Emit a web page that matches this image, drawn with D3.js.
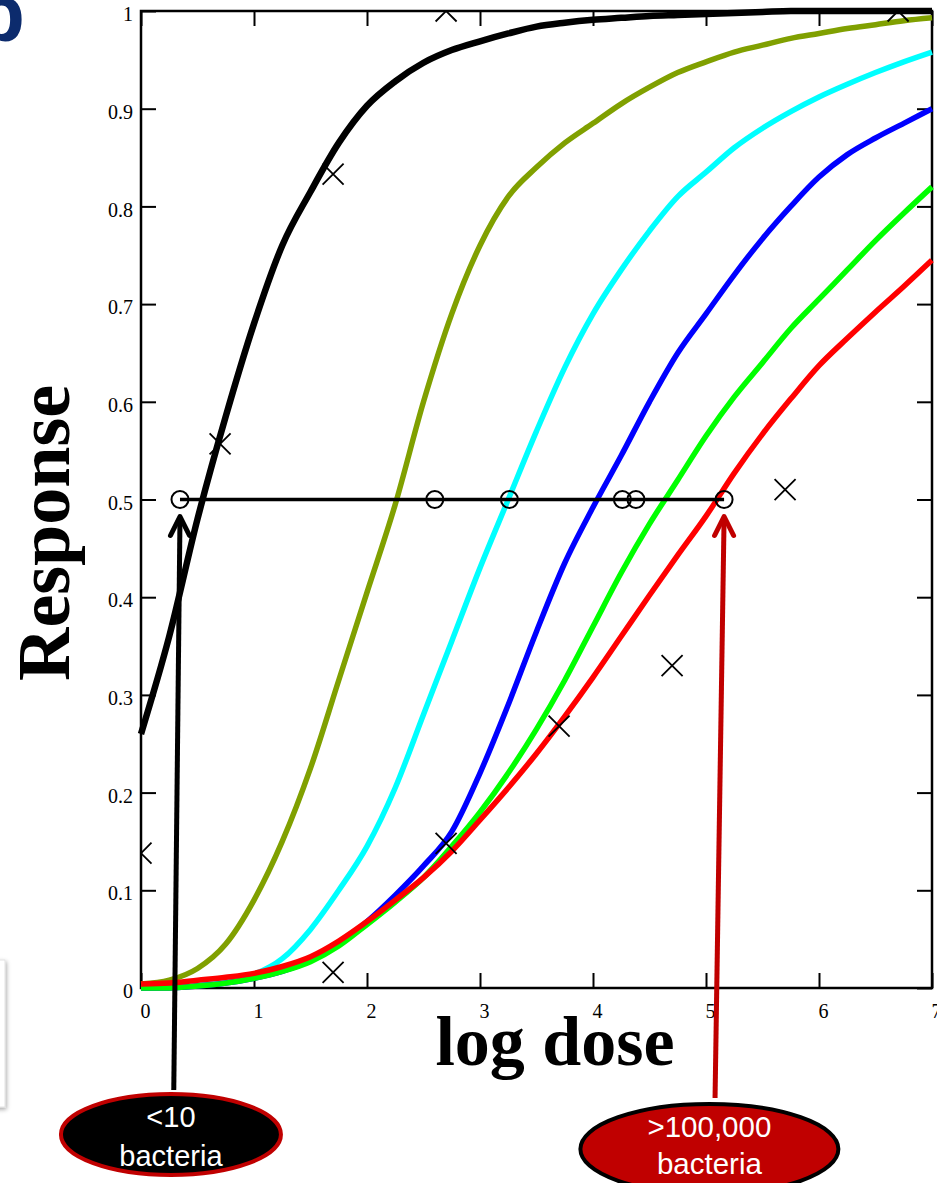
<!DOCTYPE html>
<html>
<head>
<meta charset="utf-8">
<script src="https://cdn.jsdelivr.net/npm/d3@7/dist/d3.min.js"></script>
<style>
  body { margin: 0; background: #fff; }
  svg { display: block; }
  .tick text { font-family: "Liberation Serif", "Times New Roman", serif; font-size: 20px; fill: #000; }
</style>
</head>
<body>
<svg id="chart" width="937" height="1183"></svg>
<script>
// values, log dose on x, response on y
const logDose = [0, 0.25, 0.5, 0.75, 1, 1.25, 1.5, 1.75, 2, 2.25, 2.5, 2.75, 3, 3.25, 3.5,
                 3.75, 4, 4.25, 4.5, 4.75, 5, 5.25, 5.5, 5.75, 6, 6.25, 6.5, 6.75, 7];

const blackCurve = [0.26, 0.36, 0.48, 0.585, 0.68, 0.76, 0.815, 0.865, 0.903, 0.928, 0.947, 0.96, 0.969, 0.977, 0.984,
                    0.988, 0.991, 0.993, 0.995, 0.996, 0.997, 0.998, 0.999, 1, 1, 1, 1, 1, 1];
const oliveCurve = [0.004, 0.008, 0.02, 0.045, 0.09, 0.15, 0.225, 0.315, 0.405, 0.495, 0.6, 0.69, 0.76, 0.81, 0.84,
                    0.865, 0.885, 0.905, 0.922, 0.937, 0.948, 0.958, 0.965, 0.972, 0.977, 0.982, 0.986, 0.99, 0.993];
const cyanCurve  = [0, 0.001, 0.003, 0.007, 0.014, 0.03, 0.06, 0.1, 0.145, 0.205, 0.28, 0.355, 0.43, 0.5, 0.57,
                    0.635, 0.69, 0.735, 0.775, 0.81, 0.835, 0.86, 0.88, 0.897, 0.912, 0.925, 0.937, 0.948, 0.958];
const blueCurve  = [0, 0, 0.002, 0.005, 0.01, 0.017, 0.028, 0.045, 0.068, 0.095, 0.125, 0.16, 0.22, 0.29, 0.365,
                    0.435, 0.492, 0.545, 0.6, 0.65, 0.69, 0.73, 0.767, 0.8, 0.83, 0.853, 0.87, 0.885, 0.9];
const greenCurve = [0, 0, 0.002, 0.005, 0.01, 0.017, 0.027, 0.043, 0.065, 0.088, 0.113, 0.145, 0.18, 0.22, 0.265,
                    0.315, 0.37, 0.425, 0.475, 0.52, 0.565, 0.605, 0.64, 0.675, 0.705, 0.735, 0.765, 0.793, 0.82];
const redCurve   = [0.004, 0.005, 0.008, 0.011, 0.015, 0.022, 0.032, 0.048, 0.068, 0.09, 0.113, 0.14, 0.172, 0.205, 0.24,
                    0.278, 0.318, 0.36, 0.402, 0.443, 0.483, 0.527, 0.567, 0.603, 0.637, 0.665, 0.692, 0.718, 0.745];

// observed points (crosses)
const crossX = [0, 0.7, 1.7, 1.7, 2.7, 2.7, 3.7, 4.7, 5.7, 6.7];
const crossY = [0.138, 0.557, 0.833, 0.016, 1.0, 0.148, 0.268, 0.33, 0.51, 1.0];

// ED50 points (circles) on the 0.5 line
const ed50X = [0.345, 2.6, 3.26, 4.26, 4.38, 5.16];
const ed50Level = 0.5;

const xTicks = [0, 1, 2, 3, 4, 5, 6, 7];
const xTickLabels = ["0", "1", "2", "3", "4", "5", "6", "7"];
const yTicks = [0, 0.1, 0.2, 0.3, 0.4, 0.5, 0.6, 0.7, 0.8, 0.9, 1];
const yTickLabels = ["0", "0.1", "0.2", "0.3", "0.4", "0.5", "0.6", "0.7", "0.8", "0.9", "1"];

const calloutText = [["<10", "bacteria"], [">100,000", "bacteria"]];

const svg = d3.select("#chart");
const x = d3.scaleLinear().domain([0, 7]).range([141, 932]);
const y = d3.scaleLinear().domain([0, 1]).range([988, 11]);

// panel letter, cut off at the page edge
svg.append("text")
    .attr("x", -24).attr("y", 41)
    .attr("font-family", "Liberation Sans, Arial, sans-serif")
    .attr("font-weight", "bold").attr("font-size", 80)
    .attr("fill", "#0c2b6d")
    .text("b");

// bit of a neighbouring box on the left edge
const defs = svg.append("defs");
const shadow = defs.append("filter").attr("id", "shadow").attr("x", "-50%").attr("y", "-20%").attr("width", "200%").attr("height", "140%");
shadow.append("feDropShadow").attr("dx", 1).attr("dy", 2).attr("stdDeviation", 2).attr("flood-color", "#000").attr("flood-opacity", 0.35);
svg.append("rect")
    .attr("x", -20).attr("y", 960).attr("width", 25).attr("height", 147)
    .attr("fill", "#fff").attr("stroke", "#e2e2e2").attr("stroke-width", 1)
    .attr("filter", "url(#shadow)");

defs.append("clipPath").attr("id", "plotclip")
  .append("rect").attr("x", 141).attr("y", 11).attr("width", 791).attr("height", 977);

// axes: ticks point inward on all four sides
const left = svg.append("g").attr("transform", "translate(141,0)")
    .call(d3.axisLeft(y).tickValues(yTicks).tickSize(-15).tickSizeOuter(0).tickPadding(8)
          .tickFormat((d, i) => yTickLabels[i]));
left.selectAll("text").attr("dy", "0.48em");

const bottom = svg.append("g").attr("transform", "translate(0,988)")
    .call(d3.axisBottom(x).tickValues(xTicks).tickSize(-15).tickSizeOuter(0).tickPadding(16)
          .tickFormat((d, i) => xTickLabels[i]));
bottom.selectAll("text").attr("x", 4);

svg.append("g").attr("transform", "translate(0,11)")
    .call(d3.axisTop(x).tickValues(xTicks).tickSize(-15).tickSizeOuter(0).tickFormat(""));
svg.append("g").attr("transform", "translate(932,0)")
    .call(d3.axisRight(y).tickValues(yTicks).tickSize(-15).tickSizeOuter(0).tickFormat(""));

svg.selectAll(".domain").remove();
svg.selectAll(".tick line").attr("stroke", "#000").attr("stroke-width", 2);

svg.append("rect")
    .attr("x", x(0)).attr("y", y(1))
    .attr("width", x(7) - x(0)).attr("height", y(0) - y(1))
    .attr("fill", "none").attr("stroke", "#000").attr("stroke-width", 2.5);

// dose-response curves
const line = d3.line()
    .x((d, i) => x(logDose[i]))
    .y(d => y(d))
    .curve(d3.curveMonotoneX);

const curves = [
  { values: oliveCurve, color: "#80a000", width: 5.5 },
  { values: cyanCurve,  color: "#00ffff", width: 5.5 },
  { values: blueCurve,  color: "#0000ff", width: 5.5 },
  { values: greenCurve, color: "#00ff00", width: 5.5 },
  { values: redCurve,   color: "#ff0000", width: 5.5 },
  { values: blackCurve, color: "#000000", width: 6.5 }
];

svg.append("g").selectAll("path")
    .data(curves)
    .enter().append("path")
    .attr("d", d => line(d.values))
    .attr("fill", "none")
    .attr("stroke", d => d.color)
    .attr("stroke-width", d => d.width)
    .attr("stroke-linejoin", "round");

// crosses, clipped at the frame
const cs = 10.5;
svg.append("g").attr("clip-path", "url(#plotclip)")
  .selectAll("path")
    .data(crossX)
    .enter().append("path")
    .attr("d", (d, i) => {
        const cx = x(d), cy = y(crossY[i]);
        return "M" + (cx - cs) + "," + (cy - cs) + "L" + (cx + cs) + "," + (cy + cs) +
               "M" + (cx - cs) + "," + (cy + cs) + "L" + (cx + cs) + "," + (cy - cs);
    })
    .attr("stroke", "#000").attr("stroke-width", 1.8).attr("fill", "none");

// 0.5 response line with ED50 circles
svg.append("line")
    .attr("x1", x(d3.min(ed50X))).attr("x2", x(d3.max(ed50X)))
    .attr("y1", y(ed50Level)).attr("y2", y(ed50Level))
    .attr("stroke", "#000").attr("stroke-width", 3.5);

svg.append("g").selectAll("circle")
    .data(ed50X)
    .enter().append("circle")
    .attr("cx", d => x(d)).attr("cy", y(ed50Level)).attr("r", 8.5)
    .attr("fill", "none").attr("stroke", "#000").attr("stroke-width", 2);

// callouts: arrows up to the lowest and highest ED50
const callouts = [
  { tip: d3.min(ed50X), base: 0.29, baseY: 1090, center: 0.265, color: "#000", fill: "#000", edge: "#c00000", cy: 1134.5, rx: 110, ry: 40.5, lines: calloutText[0], fs: 29, dy: [-7.5, 31.5] },
  { tip: d3.max(ed50X), base: 5.08, baseY: 1098, center: 5.03, color: "#c00000", fill: "#c00000", edge: "#000", cy: 1149, rx: 129, ry: 45, lines: calloutText[1], fs: 29.5, dy: [-12, 25] }
];

callouts.forEach(function(c) {
    const tx = x(c.tip), ty = y(ed50Level) + 17;
    svg.append("line")
        .attr("x1", x(c.base)).attr("y1", c.baseY)
        .attr("x2", tx).attr("y2", ty + 2)
        .attr("stroke", c.color).attr("stroke-width", 5);
    svg.append("path")
        .attr("d", "M" + (tx - 9.5) + "," + (ty + 19) + "L" + tx + "," + ty + "L" + (tx + 9.5) + "," + (ty + 19))
        .attr("fill", "none").attr("stroke", c.color).attr("stroke-width", 5)
        .attr("stroke-linecap", "round").attr("stroke-linejoin", "round");

    const cx = x(c.center);
    svg.append("ellipse")
        .attr("cx", cx).attr("cy", c.cy).attr("rx", c.rx).attr("ry", c.ry)
        .attr("fill", c.fill).attr("stroke", c.edge).attr("stroke-width", 4);
    c.lines.forEach(function(t, i) {
        svg.append("text")
            .attr("x", cx).attr("y", c.cy + c.dy[i])
            .attr("text-anchor", "middle")
            .attr("font-family", "Liberation Sans, Arial, sans-serif")
            .attr("font-size", c.fs).attr("fill", "#fff")
            .text(t);
    });
});

// axis titles
svg.append("text")
    .attr("transform", "translate(69,533) rotate(-90)")
    .attr("text-anchor", "middle")
    .attr("font-family", "Liberation Serif, Times New Roman, serif")
    .attr("font-weight", "bold").attr("font-size", 74)
    .text("Response");

svg.append("text")
    .attr("x", 555).attr("y", 1065)
    .attr("text-anchor", "middle")
    .attr("font-family", "Liberation Serif, Times New Roman, serif")
    .attr("font-weight", "bold").attr("font-size", 70)
    .text("log dose");
</script>
</body>
</html>
